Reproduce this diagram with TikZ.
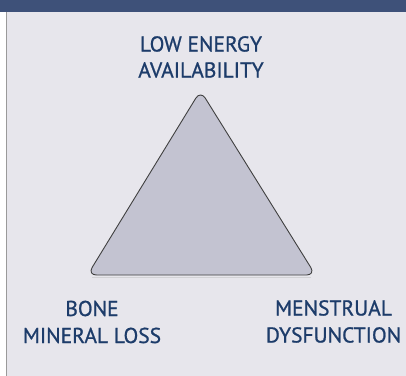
\documentclass[tikz,border=0pt]{standalone}
\usepackage{fontspec}
\setmainfont{PT Sans}
\newfontfamily\lblfont{PT Sans}[FakeBold=0.9]
\definecolor{hdr}{HTML}{3E5179}
\definecolor{bgc}{HTML}{E7E6EC}
\definecolor{txt}{HTML}{1D3C6A}
\definecolor{trif}{HTML}{C3C3D1}
\definecolor{edge}{HTML}{9A9A9A}
\tikzset{lbl/.style={anchor=base,inner sep=0pt,text=txt,font=\lblfont\fontsize{21.5}{24}\selectfont}}
\begin{document}
\begin{tikzpicture}[x=1pt,y=-1pt]
\useasboundingbox (0,0) rectangle (406,375);
\fill[white] (-5,-5) rectangle (411,380);
\fill[bgc] (7,12) rectangle (411,380);
\draw[edge,line width=1.2pt] (6.4,12) -- (6.4,380);
\fill[hdr] (-5,-5) rectangle (411,12);
\fill[black!25,opacity=0.5] (92,276.5) -- (311,276.5) -- (311,277.8) -- (92,277.8) -- cycle;
\draw[fill=trif,draw=black!75,line width=0.9pt,rounded corners=9pt]
  (200.5,90.5) coordinate (apex) -- (315.5,275) coordinate (br) -- (87.5,275) coordinate (bl) -- cycle;
\node[lbl] (t1) at (201,51.5) {LOW ENERGY};
\node[lbl] (t2) at (201,77.5) {AVAILABILITY};
\node[lbl] (l1) at (92,316) {BONE};
\node[lbl] (l2) at (92,343) {MINERAL LOSS};
\node[lbl] (r1) at (333.5,315.5) {MENSTRUAL};
\node[lbl] (r2) at (333.5,342.5) {DYSFUNCTION};
\end{tikzpicture}
\end{document}
